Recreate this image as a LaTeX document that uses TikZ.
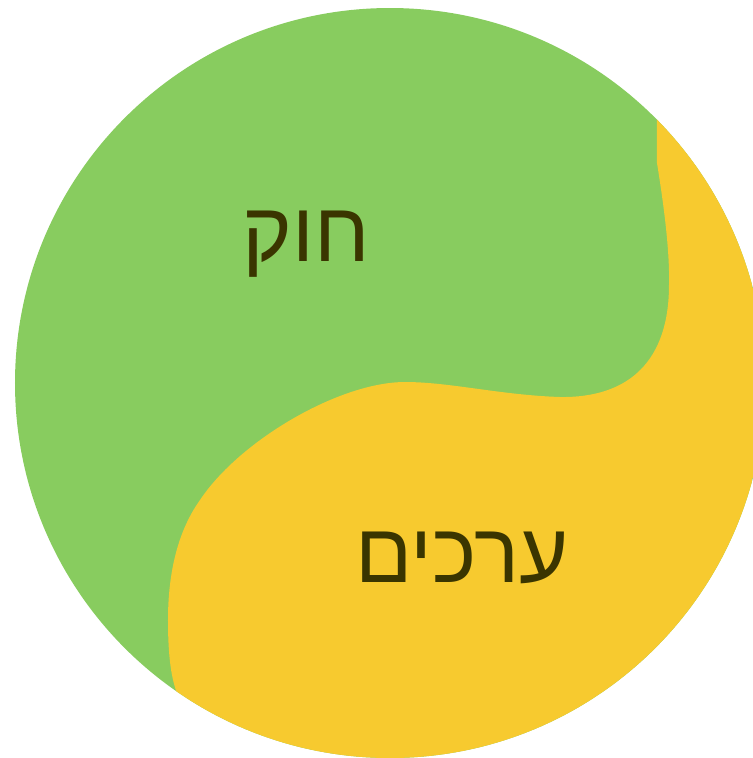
\documentclass[tikz,border=0pt]{standalone}
\usepackage{fontspec}
\TeXXeTstate=1
\newfontfamily\hebfont[Script=Hebrew]{Liberation Sans}
\usepackage{tikz}
\definecolor{verde}{HTML}{88CC5F}
\definecolor{amarillo}{HTML}{F7CA2F}
\definecolor{oliva}{HTML}{3A3500}
\tikzset{
    palabra/.style = {text=oliva, font=\hebfont\fontsize{24}{28}\selectfont, inner sep=0pt},
    mitad/.style = {fill=amarillo}
}

\begin{document}
\begin{tikzpicture}
    \useasboundingbox (0,0) rectangle (7.53,-7.58);
    % Circulo
    \coordinate (c) at (3.9,-3.83);
    \fill[verde] (c) circle (3.75);
    \begin{scope}
        \clip (c) circle (3.75);
        \fill[mitad] (6.57,0) -- (6.57,-1.63)
            .. controls (6.63,-2.0) and (6.70,-2.5) .. (6.69,-2.85)
            .. controls (6.69,-3.6) and (6.30,-3.98) .. (5.60,-3.97)
            .. controls (5.00,-3.95) and (4.50,-3.82) .. (4.05,-3.82)
            .. controls (3.40,-3.82) and (2.40,-4.40) .. (2.00,-5.00)
            .. controls (1.75,-5.35) and (1.68,-5.80) .. (1.68,-6.20)
            .. controls (1.68,-6.60) and (1.72,-6.80) .. (1.77,-6.93)
            -- (1.9,-8) -- (8,-8) -- (8,0) -- cycle;
    \end{scope}
    % Textos
    \node (ley) [palabra] at (3.06,-2.44) {\beginR חוק\endR};
    \node (valores) [palabra] at (4.62,-5.58) {\beginR ערכים\endR};
\end{tikzpicture}
\end{document}
